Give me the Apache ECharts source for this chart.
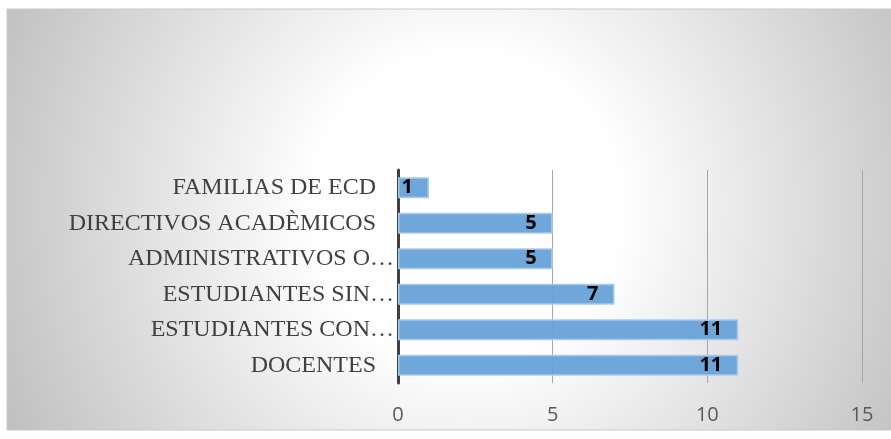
<!DOCTYPE html>
<html>
<head>
<meta charset="utf-8">
<title>ECharts</title>
<style>
    html, body { margin:0; padding:0; background:#fff; }
    #main { width:891px; height:439px; }
</style>
</head>
<body>
<div id="main"></div>
<script src="https://cdn.jsdelivr.net/npm/echarts@6/dist/echarts.min.js"></script>
<script type="text/javascript">
    // categories from bottom to top (as on the axis)
    var categories = ['DOCENTES', 'ESTUDIANTES CON…', 'ESTUDIANTES SIN…', 'ADMINISTRATIVOS O…', 'DIRECTIVOS ACADÈMICOS', 'FAMILIAS DE ECD'];
    var values = [11, 11, 7, 5, 5, 1];
    var xTicks = [0, 5, 10, 15];

    var myChart = echarts.init(document.getElementById('main'));

    var option = {
        backgroundColor: '#fff',
        animation: false,
        graphic: [{
            type: 'rect',
            z: -10,
            silent: true,
            shape: { x: 7, y: 9, width: 890, height: 421 },
            style: {
                stroke: '#c8c8c8',
                lineWidth: 1,
                fill: new echarts.graphic.RadialGradient(0.515, 0.47, 1.21, [
                    { offset: 0, color: '#ffffff' },
                    { offset: 0.3, color: '#ffffff' },
                    { offset: 1, color: '#bfbfbf' }
                ])
            }
        }],
        grid: {
            left: 398,
            right: 29,
            top: 170,
            bottom: 56
        },
        xAxis: {
            type: 'value',
            min: xTicks[0],
            max: xTicks[xTicks.length - 1],
            interval: 5,
            axisLine: { show: false },
            axisTick: { show: false },
            splitLine: { lineStyle: { color: '#a6a6a6', width: 1 } },
            axisLabel: {
                margin: 22,
                color: '#595959',
                fontSize: 20,
                fontFamily: 'Open Sans'
            }
        },
        yAxis: {
            type: 'category',
            data: categories,
            axisLine: { lineStyle: { color: '#404040', width: 3 } },
            axisTick: { show: false },
            axisLabel: {
                margin: 4,
                color: '#404040',
                fontSize: 24,
                fontFamily: 'Liberation Serif',
                formatter: function (v) {
                    return v.charAt(v.length - 1) === '…' ? v : v + '   ';
                }
            }
        },
        series: [{
            type: 'bar',
            data: values,
            barWidth: 21,
            itemStyle: {
                color: 'rgba(104,162,216,0.95)',
                borderColor: '#a9cbea',
                borderWidth: 1.5
            },
            label: {
                show: true,
                position: 'insideRight',
                distance: 16,
                color: '#000',
                fontSize: 20,
                fontWeight: 'bold',
                fontFamily: 'Open Sans'
            }
        }]
    };
    myChart.setOption(option, true);
</script>
</body>
</html>
